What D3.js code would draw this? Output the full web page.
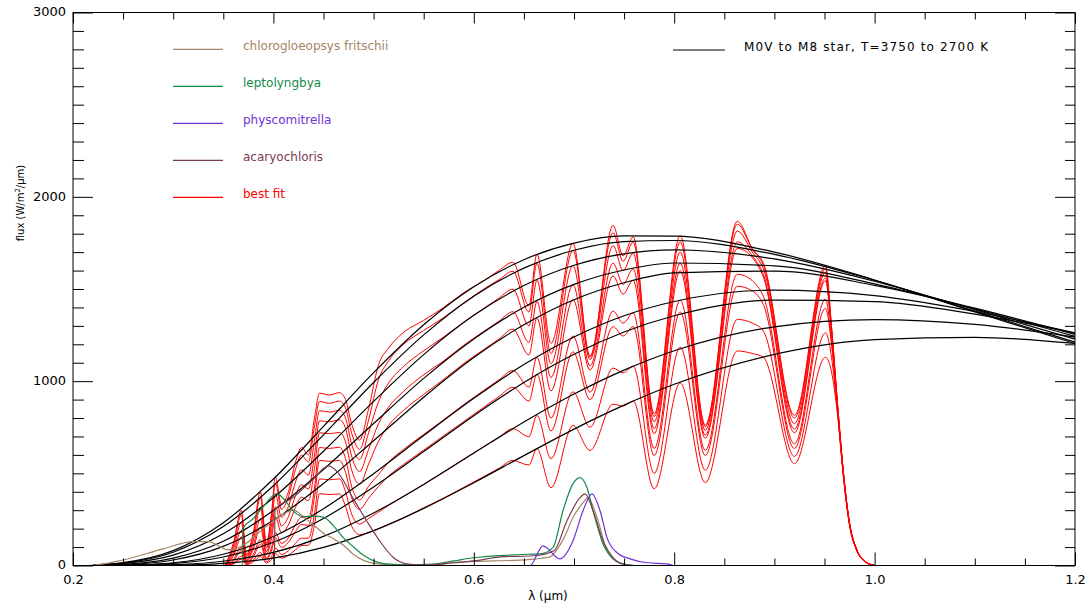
<!DOCTYPE html>
<html>
<head>
<meta charset="utf-8">
<script src="https://cdn.jsdelivr.net/npm/d3@7"></script>
<style>
  body { margin: 0; background: #fff; }
  text { font-family: "DejaVu Sans", sans-serif; }
</style>
</head>
<body>
<svg id="chart" width="1088" height="605"></svg>
<script>
// ---- data ----
// stellar (blackbody-like) spectra, M0V .. M8
const starLambda = [0.22, 0.25, 0.3, 0.35, 0.4, 0.45, 0.5, 0.55, 0.6, 0.65, 0.7, 0.75, 0.8, 0.9, 1.0, 1.1, 1.2];
const starFlux = [
  [4, 16, 81, 232, 469, 755, 1046, 1306, 1512, 1659, 1749, 1788, 1787, 1700, 1549, 1376, 1204],
  [3, 13, 72, 211, 433, 709, 993, 1251, 1461, 1613, 1710, 1757, 1763, 1688, 1547, 1380, 1212],
  [2, 10, 56, 172, 368, 620, 890, 1144, 1357, 1519, 1629, 1691, 1712, 1663, 1542, 1388, 1228],
  [1, 6, 40, 132, 298, 521, 770, 1015, 1229, 1401, 1525, 1603, 1641, 1625, 1528, 1392, 1243],
  [1, 4, 30, 104, 245, 445, 677, 913, 1128, 1306, 1442, 1534, 1588, 1597, 1520, 1396, 1254],
  [0, 2, 15, 61, 157, 308, 498, 705, 907, 1090, 1240, 1355, 1432, 1494, 1464, 1378, 1262],
  [0, 1, 11, 46, 126, 255, 426, 618, 813, 993, 1146, 1267, 1355, 1440, 1432, 1364, 1260],
  [0, 0, 5, 23, 71, 158, 285, 440, 610, 778, 930, 1060, 1165, 1295, 1334, 1308, 1239],
  [0, 0, 2, 12, 40, 98, 189, 310, 449, 596, 740, 870, 983, 1145, 1225, 1238, 1205]
];

// best fit spectra (one per star)
const fitLambda = [0.352, 0.360, 0.368, 0.373, 0.380, 0.387, 0.393, 0.398, 0.402, 0.408, 0.415, 0.422, 0.428, 0.435,
  0.441, 0.446, 0.456, 0.466, 0.472, 0.478, 0.486, 0.495, 0.505, 0.515, 0.530, 0.550, 0.570, 0.590, 0.610, 0.625,
  0.639, 0.655, 0.663, 0.677, 0.699, 0.716, 0.739, 0.749, 0.759, 0.780, 0.806, 0.831, 0.863, 0.878, 0.889, 0.920,
  0.951, 0.957, 0.963, 0.969, 0.975, 0.982, 0.990, 1.000];
const fitFlux = [
  [0, 120, 300, 60, 180, 400, 120, 280, 480, 330, 400, 560, 640, 600, 800, 935, 925, 938, 900, 770, 680, 850, 1090, 1180, 1265, 1330, 1400, 1480, 1545, 1600, 1645, 1410, 1690, 1205, 1747, 1130, 1845, 1680, 1783, 824, 1790, 762, 1867, 1720, 1640, 815, 1629, 1300, 880, 500, 230, 90, 25, 0],
  [0, 105, 275, 50, 165, 370, 110, 258, 445, 305, 372, 520, 598, 562, 755, 890, 880, 892, 855, 720, 630, 790, 1010, 1110, 1200, 1275, 1345, 1425, 1500, 1550, 1596, 1375, 1640, 1150, 1709, 1138, 1805, 1650, 1755, 808, 1755, 753, 1851, 1715, 1630, 800, 1610, 1290, 875, 500, 230, 90, 25, 0],
  [0, 85, 235, 40, 140, 315, 95, 220, 385, 262, 320, 452, 520, 490, 680, 840, 832, 842, 800, 660, 575, 720, 890, 990, 1080, 1165, 1240, 1320, 1395, 1450, 1499, 1300, 1548, 1095, 1627, 1118, 1735, 1600, 1695, 780, 1700, 734, 1814, 1700, 1610, 770, 1590, 1280, 870, 495, 228, 88, 24, 0],
  [0, 65, 190, 30, 110, 255, 75, 178, 320, 215, 265, 378, 438, 415, 600, 785, 780, 790, 745, 595, 510, 630, 770, 860, 945, 1035, 1110, 1195, 1270, 1325, 1377, 1210, 1433, 1020, 1523, 1083, 1640, 1525, 1610, 743, 1640, 707, 1756, 1680, 1580, 740, 1560, 1270, 865, 495, 228, 88, 24, 0],
  [0, 50, 155, 25, 90, 210, 60, 145, 265, 178, 220, 315, 370, 352, 525, 720, 715, 722, 670, 520, 440, 550, 675, 760, 842, 928, 1010, 1096, 1172, 1228, 1282, 1142, 1344, 947, 1442, 1060, 1571, 1472, 1548, 715, 1600, 690, 1720, 1670, 1565, 720, 1545, 1260, 860, 490, 226, 87, 24, 0],
  [0, 30, 100, 15, 60, 140, 40, 95, 180, 120, 150, 220, 262, 255, 420, 640, 635, 642, 580, 430, 355, 430, 494, 561, 630, 711, 791, 873, 950, 1007, 1058, 968, 1130, 800, 1245, 940, 1380, 1315, 1370, 635, 1440, 625, 1580, 1545, 1460, 660, 1445, 1220, 850, 485, 224, 86, 23, 0],
  [0, 22, 80, 12, 48, 115, 32, 78, 150, 98, 125, 185, 222, 218, 370, 570, 565, 570, 505, 370, 305, 365, 430, 486, 549, 626, 704, 781, 859, 916, 967, 892, 1038, 730, 1159, 900, 1296, 1245, 1296, 597, 1375, 597, 1515, 1490, 1415, 635, 1395, 1200, 845, 482, 222, 85, 23, 0],
  [0, 12, 50, 8, 30, 70, 20, 48, 95, 60, 80, 120, 148, 148, 280, 470, 465, 470, 400, 280, 225, 255, 290, 326, 375, 440, 507, 575, 644, 696, 742, 699, 814, 580, 942, 750, 1071, 1045, 1082, 500, 1185, 517, 1335, 1315, 1272, 592, 1262, 1130, 830, 478, 220, 84, 22, 0],
  [0, 8, 35, 5, 20, 50, 14, 32, 65, 40, 55, 85, 108, 110, 220, 390, 385, 388, 320, 215, 168, 178, 200, 224, 258, 313, 366, 424, 482, 527, 570, 545, 634, 422, 760, 624, 875, 865, 893, 416, 990, 450, 1164, 1150, 1130, 552, 1130, 1050, 820, 475, 218, 83, 22, 0]
];

// organism spectra
const chloroLambda = [0.2, 0.215, 0.25, 0.29, 0.32, 0.335, 0.355, 0.37, 0.39, 0.41, 0.42, 0.43, 0.44, 0.45, 0.46, 0.47, 0.48, 0.49, 0.5, 0.52, 0.56, 0.58, 0.6, 0.62, 0.64, 0.66, 0.675, 0.69, 0.699, 0.709, 0.714, 0.723, 0.733, 0.745, 0.76, 1.2];
const chloroFlux = [0, 0, 30, 90, 130, 130, 85, 110, 200, 280, 300, 265, 220, 175, 145, 110, 60, 28, 12, 4, 4, 15, 22, 25, 28, 35, 45, 150, 260, 341, 368, 260, 80, 15, 0, 0];
const leptoLambda = [0.2, 0.369, 0.3695, 0.38, 0.39, 0.4035, 0.412, 0.42, 0.43, 0.44, 0.45, 0.46, 0.47, 0.48, 0.49, 0.5, 0.51, 0.53, 0.56, 0.58, 0.6, 0.63, 0.653, 0.666, 0.679, 0.689, 0.699, 0.706, 0.713, 0.719, 0.729, 0.739, 0.749, 0.76, 1.2];
const leptoFlux = [0, 0, 200, 255, 320, 390, 350, 295, 265, 268, 262, 215, 150, 100, 55, 25, 10, 4, 8, 25, 42, 55, 61, 63, 97, 297, 444, 477, 422, 297, 117, 36, 9, 0, 0];
const physcoLambda = [0.2, 0.656, 0.669, 0.686, 0.699, 0.709, 0.718, 0.726, 0.733, 0.743, 0.756, 0.773, 0.793, 0.799, 0.8];
const physcoFlux = [0, 0, 107, 36, 134, 297, 389, 297, 150, 69, 36, 15, 9, 0, 0];
const acaryLambda = [0.2, 0.401, 0.4015, 0.42, 0.44, 0.455, 0.465, 0.48, 0.493, 0.506, 0.52, 0.533, 0.55, 0.58, 0.6, 0.627, 0.66, 0.68, 0.693, 0.706, 0.711, 0.719, 0.729, 0.739, 0.75, 0.76, 1.2];
const acaryFlux = [0, 0, 300, 370, 470, 540, 500, 360, 243, 134, 42, 9, 2, 15, 25, 47, 53, 80, 243, 368, 389, 297, 134, 43, 5, 0, 0];

const xTickLabels = ['0.2', '0.4', '0.6', '0.8', '1.0', '1.2'];
const yTickLabels = ['0', '1000', '2000', '3000'];

const legendNames = ['chlorogloeopsys fritschii', 'leptolyngbya', 'physcomitrella', 'acaryochloris', 'best fit'];
const legendColors = ['#a48565', '#138a48', '#7030d8', '#7c3a52', '#ff0000'];

// ---- layout ----
const svg = d3.select('#chart');
const x = d3.scaleLinear().domain([0.2, 1.2]).range([73, 1075]);
const y = d3.scaleLinear().domain([0, 3000]).range([565.5, 12.5]);

const line = d3.line()
  .x(d => x(d[0]))
  .y(d => y(d[1]))
  .curve(d3.curveMonotoneX);

const zip = (xs, ys) => xs.map((v, i) => [v, ys[i]]);

// best fit curves
fitFlux.forEach(f => {
  svg.append('path')
    .attr('d', line(zip(fitLambda, f)))
    .attr('fill', 'none')
    .attr('stroke', '#ff0000')
    .attr('stroke-width', 1);
});

// star curves
starFlux.forEach(f => {
  svg.append('path')
    .attr('d', line(zip(starLambda, f)))
    .attr('fill', 'none')
    .attr('stroke', '#000')
    .attr('stroke-width', 1.2);
});

// organisms
const organisms = [
  [chloroLambda, chloroFlux, legendColors[0]],
  [leptoLambda, leptoFlux, legendColors[1]],
  [acaryLambda, acaryFlux, legendColors[3]],
  [physcoLambda, physcoFlux, legendColors[2]]
];
organisms.forEach(([l, f, c]) => {
  svg.append('path')
    .attr('d', line(zip(l, f)))
    .attr('fill', 'none')
    .attr('stroke', c)
    .attr('stroke-width', 1.2);
});

// ---- axes ----
const xMajor = xTickLabels.map(Number);
const xMinor = d3.range(0.25, 1.2, 0.05).filter(v => !xMajor.some(m => Math.abs(m - v) < 1e-6));
const yMajor = yTickLabels.map(Number);
const yMinor = d3.range(100, 3000, 100).filter(v => v % 1000 !== 0);

function drawAxis(axis, transform, showLabels) {
  const g = svg.append('g').attr('transform', transform).call(axis);
  g.select('.domain').remove();
  g.selectAll('line').attr('stroke', '#000');
  g.selectAll('text').attr('font-size', 13).attr('fill', '#000');
  if (!showLabels) g.selectAll('text').remove();
  return g;
}

// bottom
drawAxis(d3.axisBottom(x).tickValues(xMajor).tickSize(-13).tickPadding(9)
  .tickFormat((d, i) => xTickLabels[i]), 'translate(0,565.5)', true);
drawAxis(d3.axisBottom(x).tickValues(xMinor).tickSize(-7).tickFormat(''), 'translate(0,565.5)', false);
// top
drawAxis(d3.axisTop(x).tickValues(xMajor).tickSize(-11).tickFormat(''), 'translate(0,12.5)', false);
drawAxis(d3.axisTop(x).tickValues(xMinor).tickSize(-7).tickFormat(''), 'translate(0,12.5)', false);
// left
drawAxis(d3.axisLeft(y).tickValues(yMajor).tickSize(-20).tickPadding(7)
  .tickFormat((d, i) => yTickLabels[i]), 'translate(73,0)', true)
  .selectAll('text').attr('dy', '0.25em');
drawAxis(d3.axisLeft(y).tickValues(yMinor).tickSize(-11).tickFormat(''), 'translate(73,0)', false);
// right
drawAxis(d3.axisRight(y).tickValues(yMajor).tickSize(-20).tickFormat(''), 'translate(1075,0)', false);
drawAxis(d3.axisRight(y).tickValues(yMinor).tickSize(-10).tickFormat(''), 'translate(1075,0)', false);

svg.append('rect')
  .attr('x', 73).attr('y', 12.5)
  .attr('width', 1075 - 73).attr('height', 565.5 - 12.5)
  .attr('fill', 'none').attr('stroke', '#000').attr('stroke-width', 1);

// axis titles
svg.append('text')
  .attr('x', 548).attr('y', 600)
  .attr('text-anchor', 'middle')
  .attr('font-size', 12)
  .text('λ (μm)');

const yt = svg.append('text')
  .attr('transform', 'translate(24,203) rotate(-90)')
  .attr('text-anchor', 'middle')
  .attr('font-size', 10);
yt.append('tspan').text('flux (W/m');
yt.append('tspan').attr('baseline-shift', 'super').attr('font-size', 7).text('2');
yt.append('tspan').text('/μm)');

// ---- legend ----
const legendY = [49.3, 86.3, 123.3, 160.3, 197.3];
legendNames.forEach((name, i) => {
  svg.append('line')
    .attr('x1', 173).attr('x2', 223)
    .attr('y1', legendY[i]).attr('y2', legendY[i])
    .attr('stroke', legendColors[i]).attr('stroke-width', 1.2);
  svg.append('text')
    .attr('x', 243).attr('y', legendY[i] + 1)
    .attr('font-size', 12)
    .attr('fill', legendColors[i])
    .text(name);
});

svg.append('line')
  .attr('x1', 673).attr('x2', 725)
  .attr('y1', 50).attr('y2', 50)
  .attr('stroke', '#000').attr('stroke-width', 1.2);
svg.append('text')
  .attr('x', 744).attr('y', 51)
  .attr('font-size', 12)
  .attr('fill', '#000')
  .attr('textLength', 244)
  .attr('lengthAdjust', 'spacing')
  .text('M0V to M8 star, T=3750 to 2700 K');
</script>
</body>
</html>
